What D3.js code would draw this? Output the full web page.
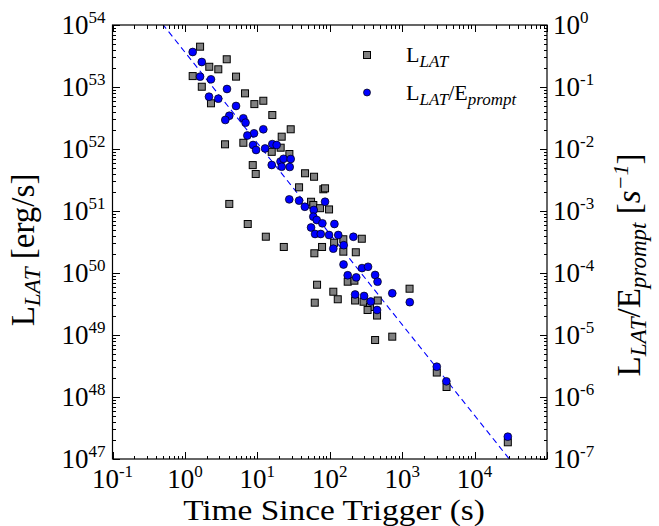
<!doctype html>
<html>
<head>
<meta charset="utf-8">
<script src="https://d3js.org/d3.v7.min.js"></script>
<style>
  body { margin: 0; background: #fff; }
  text { font-family: "Liberation Serif", serif; fill: #000; }
</style>
</head>
<body>
<svg id="chart" width="659" height="526"></svg>
<script>
// L_LAT (erg/s) vs time since trigger (s), grey squares
const grayTime = [1.62, 3.78, 2.17, 2.89, 1.28, 5.08, 1.71, 6.76, 2.29, 9.1, 12.1, 16.1, 28.9, 21.7,
  3.58, 6.41, 21.0, 15.8, 27.7, 8.64, 9.5, 45.6, 60.7, 81.6, 86.1, 37.7, 4.1, 55.2, 59.3, 73.5, 97.8,
  7.37, 13.1, 23.2, 78.3, 115, 154, 277, 61.3, 154, 229, 66.8, 112, 129, 62.1, 177, 219, 224, 293,
  460, 360, 333, 450, 1265, 423, 730, 3006, 4102, 28770];
const grayLum = [4.47e53, 2.8e53, 2.12e53, 1.93e53, 1.5e53, 1.47e53, 1.01e53, 7.9e52, 5.46e52, 5.3e52,
  6.0e52, 3.53e52, 2.08e52, 1.58e52, 1.19e52, 1.26e52, 1.05e52, 9.0e51, 8.3e51, 5.5e51, 3.95e51,
  4.06e51, 3.57e51, 2.24e51, 2.32e51, 2.41e51, 1.3e51, 1.41e51, 1.25e51, 1.11e51, 1.06e51, 6.17e50,
  3.85e50, 2.63e50, 2.63e50, 3.08e50, 3.5e50, 3.57e50, 2.08e50, 2.21e50, 2.16e50, 6.47e49, 4.99e49,
  3.77e49, 3.32e49, 7.24e49, 7.52e49, 3.6e49, 3.44e49, 3.6e49, 2.83e49, 2.53e49, 2.06e49, 5.58e49,
  8.3e48, 9.4e48, 2.48e48, 1.45e48, 1.86e47];

// L_LAT / E_prompt (1/s), blue circles, right axis
const blueTime = [1.28, 1.71, 1.62, 2.29, 3.81, 2.15, 2.89, 5.08, 4.1, 3.61, 6.41, 6.87, 9.0, 12.1,
  7.28, 8.73, 9.6, 12.8, 16.1, 18.5, 20.9, 23.0, 28.9, 15.8, 21.7, 28.0, 27.6, 37.7, 45.3, 86.1,
  60.1, 59.3, 66.1, 79.1, 116, 55.2, 62.7, 75.1, 97.8, 131, 212, 156, 112, 155, 279, 338, 177, 232,
  423, 457, 224, 298, 368, 450, 730, 1274, 3006, 4074, 28770];
const blueRatio = [0.367, 0.253, 0.147, 0.133, 0.0929, 0.0698, 0.0648, 0.0494, 0.0344, 0.0294,
  0.0313, 0.0266, 0.0179, 0.0208, 0.0165, 0.0116, 0.00964, 0.0102, 0.012, 0.0116, 0.00628, 0.00695,
  0.0069, 0.00552, 0.00518, 0.00513, 0.00154, 0.00147, 0.00117, 0.00141, 0.00104, 0.00081,
  0.000716, 0.000633, 0.000617, 0.000542, 0.000426, 0.000426, 0.00041, 0.00041, 0.000384,
  0.000281, 0.000247, 0.000137, 0.00012, 0.000126, 9.2e-5, 8.5e-5, 9.3e-5, 7.24e-5, 4.5e-5,
  4.26e-5, 3.47e-5, 2.53e-5, 4.71e-5, 3.38e-5, 3.08e-6, 1.79e-6, 2.29e-7];

// power-law fit drawn dashed: L = fitNorm * t^fitIndex
const fitNorm = 3.65e53;
const fitIndex = -1.465;

// labelled decades (10^5 is left unlabelled, as in the original)
const xExps = [-1, 0, 1, 2, 3, 4];
const leftExps = [47, 48, 49, 50, 51, 52, 53, 54];
const rightExps = [-7, -6, -5, -4, -3, -2, -1, 0];

const pLeft = 112.5, pRight = 547, pTop = 25, pBottom = 459;
const majorLen = 7, minorLen = 3.5;

const svg = d3.select("#chart");
svg.append("rect").attr("width", 659).attr("height", 526).attr("fill", "#fff");

const x = d3.scaleLog().domain([1e-1, 1e5]).range([pLeft, pRight]);
const yL = d3.scaleLog().domain([1e47, 1e54]).range([pBottom, pTop]);
const yR = d3.scaleLog().domain([1e-7, 1e0]).range([pBottom, pTop]);

const isMajor = v => Math.abs(Math.log10(v) - Math.round(Math.log10(v))) < 1e-9;

svg.append("clipPath").attr("id", "plotclip")
  .append("rect").attr("x", pLeft).attr("y", pTop)
  .attr("width", pRight - pLeft).attr("height", pBottom - pTop);

// fit line
const fitT = d3.range(-1, 5.01, 0.5).map(e => Math.pow(10, e));
svg.append("path")
  .attr("clip-path", "url(#plotclip)")
  .attr("d", d3.line().x(t => x(t)).y(t => yL(fitNorm * Math.pow(t, fitIndex)))(fitT))
  .attr("fill", "none").attr("stroke", "#0000ff").attr("stroke-width", 1.1)
  .attr("stroke-dasharray", "6,4");

// grey squares
const sq = 7;
svg.append("g").selectAll("rect")
  .data(d3.zip(grayTime, grayLum))
  .join("rect")
  .attr("x", d => x(d[0]) - sq / 2)
  .attr("y", d => yL(d[1]) - sq / 2)
  .attr("width", sq).attr("height", sq)
  .attr("fill", "#808080").attr("stroke", "#000").attr("stroke-width", 1);

// blue circles
svg.append("g").selectAll("circle")
  .data(d3.zip(blueTime, blueRatio))
  .join("circle")
  .attr("cx", d => x(d[0]))
  .attr("cy", d => yR(d[1]))
  .attr("r", 3.9)
  .attr("fill", "#0000ff").attr("stroke", "#000").attr("stroke-width", 0.7);

// ticks
const tickG = svg.append("g").attr("stroke", "#000").attr("stroke-width", 1)
  .attr("shape-rendering", "crispEdges");
x.ticks().forEach(v => {
  const len = isMajor(v) ? majorLen : minorLen;
  const px = Math.round(x(v)) + 0.5;
  tickG.append("line").attr("x1", px).attr("x2", px).attr("y1", pBottom).attr("y2", pBottom - len);
  tickG.append("line").attr("x1", px).attr("x2", px).attr("y1", pTop).attr("y2", pTop + len);
});
yL.ticks().forEach(v => {
  const len = isMajor(v) ? majorLen : minorLen;
  const py = Math.round(yL(v)) + 0.5;
  tickG.append("line").attr("x1", pLeft).attr("x2", pLeft + len).attr("y1", py).attr("y2", py);
});
yR.ticks().forEach(v => {
  const len = isMajor(v) ? majorLen : minorLen;
  const py = Math.round(yR(v)) + 0.5;
  tickG.append("line").attr("x1", pRight).attr("x2", pRight - len).attr("y1", py).attr("y2", py);
});

// frame
svg.append("rect")
  .attr("x", pLeft).attr("y", pTop).attr("width", pRight - pLeft).attr("height", pBottom - pTop)
  .attr("fill", "none").attr("stroke", "#000").attr("stroke-width", 1.2);

// tick labels
function powLabel(g, exp) {
  g.append("tspan").text("10");
  g.append("tspan").attr("dy", -11).attr("font-size", 17).text(exp);
}
xExps.forEach(e => {
  const t = svg.append("text").attr("x", x(Math.pow(10, e)))
    .attr("y", pBottom + 29).attr("text-anchor", "middle").attr("font-size", 27);
  powLabel(t, e);
});
leftExps.forEach(e => {
  const t = svg.append("text").attr("x", pLeft - 7)
    .attr("y", yL(Math.pow(10, e)) + 9).attr("text-anchor", "end").attr("font-size", 27);
  powLabel(t, e);
});
rightExps.forEach(e => {
  const t = svg.append("text").attr("x", pRight + 6)
    .attr("y", yR(Math.pow(10, e)) + 9).attr("text-anchor", "start").attr("font-size", 27);
  powLabel(t, e);
});

// axis titles
svg.append("text").attr("transform", "translate(334,520) scale(1.15,1)")
  .attr("text-anchor", "middle").attr("font-size", 29)
  .text("Time Since Trigger (s)");

const yt = svg.append("text").attr("transform", "translate(34,250) rotate(-90)")
  .attr("text-anchor", "middle").attr("font-size", 33);
yt.append("tspan").text("L");
yt.append("tspan").attr("dy", 6).attr("font-size", 23).attr("font-style", "italic").text("LAT");
yt.append("tspan").attr("dy", -6).text(" [erg/s]");

const rt = svg.append("text").attr("transform", "translate(640,265) rotate(-90)")
  .attr("text-anchor", "middle").attr("font-size", 33);
rt.append("tspan").text("L");
rt.append("tspan").attr("dy", 6).attr("font-size", 23).attr("font-style", "italic").text("LAT");
rt.append("tspan").attr("dy", -6).text("/E");
rt.append("tspan").attr("dy", 6).attr("font-size", 23).attr("font-style", "italic").text("prompt");
rt.append("tspan").attr("dy", -6).text(" [");
rt.append("tspan").attr("font-style", "italic").text("s");
rt.append("tspan").attr("dy", -12).attr("font-size", 22).attr("font-style", "italic").text("\u22121");
rt.append("tspan").attr("dy", 12).text("]");

// legend
const lg = svg.append("g");
lg.append("rect").attr("x", 367 - 3.5).attr("y", 55 - 3.5).attr("width", 7).attr("height", 7)
  .attr("fill", "#808080").attr("stroke", "#000");
lg.append("circle").attr("cx", 367).attr("cy", 92.5).attr("r", 3.5)
  .attr("fill", "#0000ff").attr("stroke", "#000").attr("stroke-width", 0.7);
const l1 = lg.append("text").attr("x", 406).attr("y", 62).attr("font-size", 22);
l1.append("tspan").text("L");
l1.append("tspan").attr("dy", 5).attr("font-size", 17).attr("font-style", "italic").text("LAT");
const l2 = lg.append("text").attr("x", 406).attr("y", 100).attr("font-size", 22);
l2.append("tspan").text("L");
l2.append("tspan").attr("dy", 5).attr("font-size", 17).attr("font-style", "italic").text("LAT");
l2.append("tspan").attr("dy", -5).text("/E");
l2.append("tspan").attr("dy", 5).attr("font-size", 17).attr("font-style", "italic").text("prompt");
</script>
</body>
</html>
